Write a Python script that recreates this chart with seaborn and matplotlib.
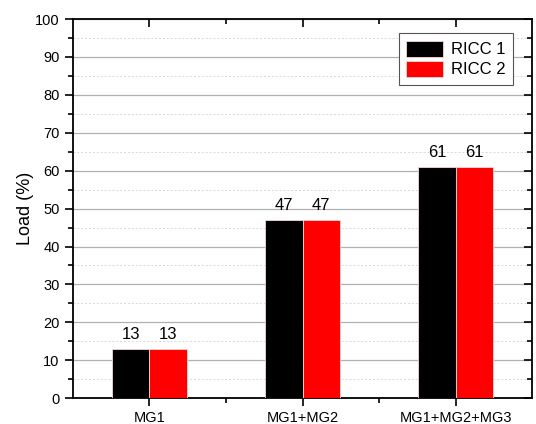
import numpy as np
import pandas as pd
import matplotlib.pyplot as plt
import seaborn as sns
from matplotlib.ticker import MultipleLocator

# chart data
categories = ['MG1', 'MG1+MG2', 'MG1+MG2+MG3']
ricc1 = [13, 47, 61]
ricc2 = [13, 47, 61]
series_names = ['RICC 1', 'RICC 2']

df = pd.DataFrame({
    'config': categories * 2,
    'load': ricc1 + ricc2,
    'series': [series_names[0]] * 3 + [series_names[1]] * 3,
})

sns.set_style("white")
plt.rcParams['font.family'] = ['Liberation Sans', 'DejaVu Sans']
plt.rcParams['text.color'] = 'black'
plt.rcParams['axes.labelcolor'] = 'black'
plt.rcParams['xtick.color'] = 'black'
plt.rcParams['ytick.color'] = 'black'

fig = plt.figure(figsize=(5.36, 4.24), dpi=100)
ax = fig.add_axes([0.136, 0.061, 0.857, 0.894])

sns.barplot(data=df, x='config', y='load', hue='series',
            palette=['#000000', '#ff0000'], saturation=1, width=0.49,
            edgecolor='#f4d8d8', linewidth=0.6, ax=ax, zorder=3)

for cont in ax.containers:
    ax.bar_label(cont, fmt='%d', padding=5, fontsize=12)

ax.set_ylim(0, 100)
ax.set_xlim(-0.5, 2.5)
ax.yaxis.set_major_locator(MultipleLocator(10))
ax.yaxis.set_minor_locator(MultipleLocator(5))
ax.set_xticks([0, 1, 2])
ax.set_xticks([0.5, 1.5], minor=True)
ax.grid(axis='y', which='major', color='#b0b0b0', linewidth=0.9, zorder=0)
ax.grid(axis='y', which='minor', color='#d8d8d8', linestyle=(0, (2, 2)), linewidth=0.7, zorder=0)
ax.set_axisbelow(True)

for s in ax.spines.values():
    s.set_color('black')
    s.set_linewidth(1.3)

# outward ticks on left/bottom
ax.tick_params(axis='both', which='both', direction='out', color='black', width=1.2)
ax.tick_params(axis='both', which='major', length=6, labelsize=10.5)
ax.tick_params(axis='both', which='minor', length=3.5)

# inward ticks on top/right edges
axr = ax.twinx()
axr.set_ylim(0, 100)
axr.yaxis.set_major_locator(MultipleLocator(10))
axr.yaxis.set_minor_locator(MultipleLocator(5))
axr.tick_params(axis='y', which='both', direction='in', labelright=False,
                color='black', width=1.2)
axt = ax.twiny()
axt.set_xlim(-0.5, 2.5)
axt.set_xticks([0, 1, 2])
axt.set_xticks([0.5, 1.5], minor=True)
axt.tick_params(axis='x', which='both', direction='in', labeltop=False,
                color='black', width=1.2)
for a in (axr, axt):
    a.tick_params(which='major', length=6)
    a.tick_params(which='minor', length=3.5)
    a.grid(False)
    for s in a.spines.values():
        s.set_visible(False)

ax.set_xlabel('')
ax.set_ylabel('Load (%)', fontsize=13, labelpad=1)

leg = ax.legend(loc='upper right', bbox_to_anchor=(0.959, 0.963), borderaxespad=0,
                fontsize=12, frameon=True, fancybox=False, edgecolor='#555555',
                framealpha=1, handlelength=2.2, handleheight=1.1, borderpad=0.45,
                labelspacing=0.2, handletextpad=0.5)
leg.get_frame().set_linewidth(0.8)
leg.set_zorder(5)

fig.savefig('out.png', dpi=100)
